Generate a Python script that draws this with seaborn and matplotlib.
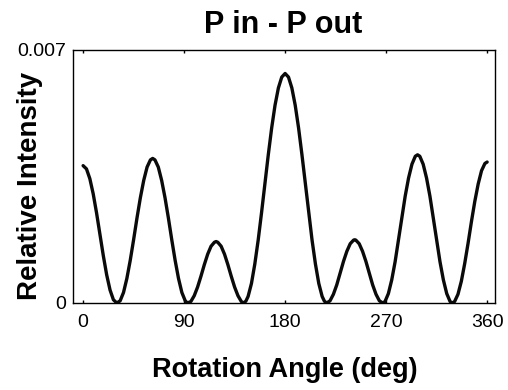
import matplotlib
matplotlib.use("Agg")
import matplotlib.pyplot as plt
import seaborn as sns
import pandas as pd

# ---- data ----
angle = [0, 3, 6, 9, 12, 15, 18, 21, 24, 27, 30,
         33, 36, 39, 42, 45, 48, 51, 54, 57, 60, 62, 64, 67, 70, 73, 76, 79, 82, 85, 88, 91, 93,
         96, 99, 102, 105, 108, 111, 114, 117, 118.5, 120, 123, 126, 129, 132, 135, 138, 141, 143,
         145, 147, 150, 153, 156, 159, 162, 165, 168, 171, 174, 177, 180, 183, 186, 189, 192, 195,
         198, 201, 204, 207, 210, 213, 215, 217,
         220, 223, 226, 229, 232, 235, 238, 241, 242, 243, 246, 249, 252, 255, 258, 261, 264, 267,
         269, 272, 275, 278, 281, 284, 287, 290, 293, 296, 298, 300, 303, 306, 309, 312, 315, 318,
         321, 324, 327, 329,
         331, 334, 337, 340, 343, 346, 349, 352, 355, 358, 360]

intensity = [0.00380, 0.00371, 0.00344, 0.00302, 0.00249, 0.00190, 0.00131, 0.00078, 0.00036, 0.00009, 0.0,
             0.00006, 0.00029, 0.00068, 0.00118, 0.00175, 0.00235, 0.00291, 0.00339, 0.00376, 0.00396,
             0.00400, 0.00396, 0.00376, 0.00339, 0.00291, 0.00235, 0.00175, 0.00118, 0.00068, 0.00029,
             0.00006, 0.0,
             0.00004, 0.00020, 0.00044, 0.00074, 0.00106, 0.00135, 0.00157, 0.00168, 0.00170, 0.00168,
             0.00157, 0.00135, 0.00106, 0.00074, 0.00044, 0.00020, 0.00004, 0.0,
             0.00005, 0.00018, 0.00054, 0.00108, 0.00174, 0.00250, 0.00331, 0.00410, 0.00484, 0.00547,
             0.00595, 0.00625, 0.00635, 0.00625, 0.00595, 0.00547, 0.00484, 0.00410, 0.00331, 0.00250,
             0.00174, 0.00108, 0.00054, 0.00018, 0.00005, 0.0,
             0.00006, 0.00024, 0.00050, 0.00082, 0.00115, 0.00143, 0.00164, 0.00174, 0.00175, 0.00174,
             0.00164, 0.00143, 0.00115, 0.00082, 0.00050, 0.00024, 0.00006, 0.0,
             0.00004, 0.00026, 0.00064, 0.00114, 0.00174, 0.00236, 0.00296, 0.00346, 0.00384, 0.00406,
             0.00410, 0.00406, 0.00384, 0.00346, 0.00296, 0.00236, 0.00174, 0.00114, 0.00064, 0.00026,
             0.00004, 0.0,
             0.00004, 0.00024, 0.00060, 0.00109, 0.00165, 0.00225, 0.00281, 0.00329, 0.00366, 0.00386,
             0.00390]

x_ticks = [0, 90, 180, 270, 360]
x_tick_labels = ["0", "90", "180", "270", "360"]
y_ticks = [0, 0.007]
y_tick_labels = ["0", "0.007"]

title = "P in - P out"
x_label = "Rotation Angle (deg)"
y_label = "Relative Intensity"

df = pd.DataFrame({"angle": angle, "intensity": intensity})

sns.set_style("white")
plt.rcParams["font.family"] = ["Liberation Sans", "DejaVu Sans"]
plt.rcParams["text.color"] = "black"

fig = plt.figure(figsize=(5.08, 3.90), dpi=100)
ax = fig.add_axes([0.1437, 0.2231, 0.8307, 0.6487])

sns.lineplot(data=df, x="angle", y="intensity", ax=ax, color="#0a0a0a",
             linewidth=2.4, sort=False, estimator=None)

ax.set_xlim(-9, 367)
ax.set_ylim(0, 0.007)

ax.set_xticks(x_ticks)
ax.set_xticklabels(x_tick_labels, fontsize=14)
ax.set_yticks(y_ticks)
ax.set_yticklabels(y_tick_labels, fontsize=14)
ax.tick_params(axis="x", direction="in", length=2, width=1, top=True, bottom=True,
               pad=8, colors="black", labelcolor="black")
ax.tick_params(axis="y", length=0, pad=5, colors="black", labelcolor="black")

for s in ax.spines.values():
    s.set_visible(True)
    s.set_color("black")
    s.set_linewidth(1.0)

ax.set_xlabel("")
ax.set_ylabel("")

fig.text(0.558, 0.935, title, ha="center", va="center", fontsize=22, fontweight="bold",
         color="black")
fig.text(0.560, 0.052, x_label, ha="center", va="center", fontsize=19.5, fontweight="bold",
         color="black")
fig.text(0.060, 0.523, y_label, ha="center", va="center", fontsize=20, fontweight="bold",
         rotation=90, color="black")

fig.savefig("out.png", dpi=100, facecolor="white")
